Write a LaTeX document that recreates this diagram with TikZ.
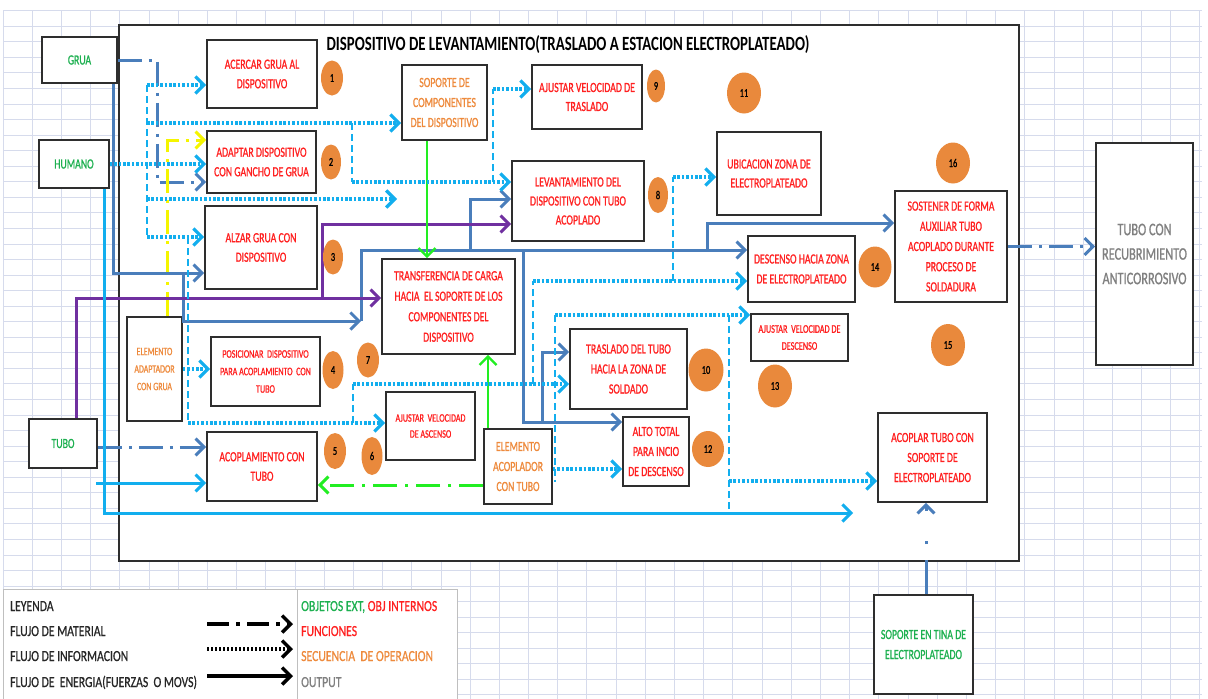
\documentclass[tikz,border=0pt]{standalone}
\usepackage{fontspec}
\setmainfont{Carlito}
\newfontfamily\boxfont[FakeStretch=0.7,FakeBold=0.9]{Carlito}
\newfontfamily\headfont[FakeStretch=0.735]{Carlito}
\newfontfamily\legendfont[FakeStretch=0.76,FakeBold=0.6]{Carlito}
\usetikzlibrary{arrows.meta,shapes.geometric}
\definecolor{steel}{HTML}{4A7EBB}
\definecolor{sky}{HTML}{12AEEE}
\definecolor{purp}{HTML}{7030A0}
\definecolor{lime}{HTML}{22EE22}
\definecolor{yel}{HTML}{F5F500}
\definecolor{fnred}{HTML}{FF2020}
\definecolor{objor}{HTML}{EE8A3C}
\definecolor{extgr}{HTML}{1DB050}
\definecolor{outgr}{HTML}{808080}
\definecolor{circor}{HTML}{E9893C}
\definecolor{gridc}{HTML}{D6DBEC}
\definecolor{boxc}{HTML}{2E2E2E}
\tikzset{
  fsz/.style 2 args={font={\boxfont\fontsize{#1}{#2}\selectfont}},
  sz/.style 2 args={minimum width=#1pt, minimum height=#2pt},
  box/.style={draw=boxc, line width=1.6pt, fill=white, align=center, inner sep=1pt},
  fn/.style={box, text=fnred, fsz={14}{19.5}},
  obj/.style={box, text=objor, fsz={14}{20}},
  ext/.style={box, text=extgr, fsz={14}{20}},
  num/.style={ellipse, fill=circor, draw=none, inner sep=0pt, text=black,
              font={\boxfont\fontsize{12}{12}\selectfont}},
  tip/.style={-{Straight Barb[length=8.5pt,width=17pt]}},
  nrg/.style={draw=steel, line width=3pt},
  mat/.style={draw=steel, line width=3pt, dash pattern=on 24pt off 7pt on 3pt off 7pt},
  info/.style={draw=sky, line width=3.2pt, dash pattern=on 2.6pt off 1.8pt},
  infov/.style={draw=sky, line width=2pt, dash pattern=on 7pt off 4pt},
  sky line/.style={draw=sky, line width=3pt},
  pur/.style={draw=purp, line width=3pt},
  grn/.style={draw=lime, line width=2.4pt},
  grnmat/.style={draw=lime, line width=3pt, dash pattern=on 24pt off 8pt on 3pt off 8pt},
  yelmat/.style={draw=yel, line width=3pt, dash pattern=on 24pt off 7pt on 3pt off 7pt},
  legtext/.style={anchor=base west, inner sep=0pt, text=black!85,
                  font={\legendfont\fontsize{15.4}{16}\selectfont}},
}
\begin{document}
\begin{tikzpicture}[x=1pt,y=-1pt]
\useasboundingbox (0,0) rectangle (1208,699);
\clip (0,0) rectangle (1208,699);

% spreadsheet grid behind everything
\foreach \k in {0,...,41}
  \draw[gridc, line width=0.9pt] ({3.1+29.19*\k},10.7) -- ({3.1+29.19*\k},699);
\foreach \k in {0,...,44}
  \draw[gridc, line width=0.9pt] (3,{10.7+15.55*\k}) -- (1202,{10.7+15.55*\k});

% legend panel and main frame
\node[draw=black!25, line width=1pt, fill=white, sz={454}{113}, inner sep=0pt] (legend) at (230,645.5) {};
\draw[black!25, line width=1pt] (297,589) -- (297,699);
\node[draw=boxc, line width=1.8pt, fill=white, sz={900}{536}, inner sep=0pt] (frame) at (569,293) {};
\node[font={\headfont\bfseries\fontsize{20.2}{20}\selectfont}, text=black] (title) at (568,45)
  {DISPOSITIVO DE LEVANTAMIENTO(TRASLADO A ESTACION ELECTROPLATEADO)};

% external objects
\node[ext, sz={75}{46}] (grua) at (79.5,60) {GRUA};
\node[ext, sz={70}{48}] (humano) at (74,164) {HUMANO};
\node[ext, sz={68}{49}] (tubo) at (63,443.5) {TUBO};
\node[ext, sz={99}{99}] (tina) at (923.5,644.5) {SOPORTE EN TINA DE\\ELECTROPLATEADO};
\node[box, sz={97}{222}, text=outgr, fsz={17.6}{24.5}] (recub) at (1144.5,254) {TUBO CON\\RECUBRIMIENTO\\ANTICORROSIVO};

% internal objects
\node[obj, sz={85}{75}] (soporte) at (444.5,102.5) {SOPORTE DE\\COMPONENTES\\DEL DISPOSITIVO};
\node[obj, sz={55}{104}, fsz={11.3}{17.5}] (adapt) at (154.5,369) {ELEMENTO\\ADAPTADOR\\CON GRUA};
\node[obj, sz={68}{75}] (acopl) at (518,466.5) {ELEMENTO\\ACOPLADOR\\CON TUBO};

% functions
\node[fn, sz={110}{68}] (f1) at (262,74) {ACERCAR GRUA AL\\DISPOSITIVO};
\node[fn, sz={109}{62}] (f2) at (261.5,162) {ADAPTAR DISPOSITIVO\\CON GANCHO DE GRUA};
\node[fn, sz={112}{83}] (f3) at (261,247.5) {ALZAR GRUA CON\\DISPOSITIVO};
\node[fn, sz={109}{69}, fsz={11.5}{17.5}] (f4) at (265.5,371.5) {POSICIONAR~ DISPOSITIVO\\PARA ACOPLAMIENTO~ CON\\TUBO};
\node[fn, sz={110}{69}] (f5) at (262,466.5) {ACOPLAMIENTO CON\\TUBO};
\node[fn, sz={89}{68}, fsz={11.5}{16}] (f6) at (430.5,426) {AJUSTAR~ VELOCIDAD\\DE ASCENSO};
\node[fn, sz={133}{95}, fsz={14}{20.5}] (f7) at (448.5,306.5) {TRANSFERENCIA DE CARGA\\HACIA~ EL SOPORTE DE LOS\\COMPONENTES DEL\\DISPOSITIVO};
\node[fn, sz={132}{80}, fsz={14}{19}] (f8) at (578,201) {LEVANTAMIENTO DEL\\DISPOSITIVO CON TUBO\\ACOPLADO};
\node[fn, sz={110}{64}, fsz={14}{19}] (f9) at (587,97) {AJUSTAR VELOCIDAD DE\\TRASLADO};
\node[fn, sz={117}{80}, fsz={14}{20}] (f10) at (628.5,369) {TRASLADO DEL TUBO\\HACIA LA ZONA DE\\SOLDADO};
\node[fn, sz={66}{69}, fsz={14}{20}] (f12) at (656,451.5) {ALTO TOTAL\\PARA INCIO\\DE DESCENSO};
\node[fn, sz={97}{47}, fsz={11.7}{17}] (f13) at (799.5,337.5) {AJUSTAR~ VELOCIDAD DE\\DESCENSO};
\node[fn, sz={107}{66}, fsz={14}{20}] (f14) at (801.5,269) {DESCENSO HACIA ZONA\\DE ELECTROPLATEADO};
\node[fn, sz={104}{83}, fsz={14}{19}] (ubic) at (769,173.5) {UBICACION ZONA DE\\ELECTROPLATEADO};
\node[fn, sz={112}{111}, fsz={14}{20.2}] (sost) at (951,246.5) {SOSTENER DE FORMA\\AUXILIAR TUBO\\ACOPLADO DURANTE\\PROCESO DE\\SOLDADURA};
\node[fn, sz={109}{89}, fsz={14}{20}] (acoplar) at (932.5,457.5) {ACOPLAR TUBO CON\\SOPORTE DE\\ELECTROPLATEADO};

% junction points of the routed connectors
\coordinate (jg) at (157,182);
\coordinate (e1) at (183,273);
\coordinate (e2) at (361,321);
\coordinate (e3) at (361,250);
\coordinate (e4) at (470,250);  \coordinate (e4b) at (470,199);
\coordinate (e5) at (523,250);  \coordinate (e5b) at (523,422);
\coordinate (e6) at (542,422);  \coordinate (e6b) at (542,352);
\coordinate (e7) at (707,250);  \coordinate (e7b) at (707,223);
\coordinate (p0) at (76,298);
\coordinate (p1) at (322,298);  \coordinate (p1b) at (322,224);
\coordinate (h1) at (104,513);  \coordinate (hend) at (853,513);
\coordinate (t2) at (96,483);
\coordinate (yl) at (167,140);
\coordinate (i1) at (147,85);   \coordinate (i2) at (147,123);
\coordinate (i3) at (147,199);  \coordinate (i3end) at (397,199);
\coordinate (i4) at (147,237);  \coordinate (i5) at (188,237);
\coordinate (i6) at (188,423);  \coordinate (i7) at (353,423);
\coordinate (i8) at (353,384);  \coordinate (i9) at (533,384);
\coordinate (i10) at (533,281); \coordinate (i11) at (673,281);
\coordinate (i12) at (673,177); \coordinate (i13) at (352,123);
\coordinate (i14) at (352,182); \coordinate (i15) at (493,182);
\coordinate (i16) at (493,89);  \coordinate (i17) at (555,315);
\coordinate (i18) at (555,482); \coordinate (i19) at (729,315);
\coordinate (i20) at (729,513); \coordinate (i21) at (729,481);

% material flow
\draw[mat, tip] (grua.east) -| (jg) -- (f2.west |- jg);
\draw[mat, tip] ([yshift=-3.5pt]tubo.east) -- ([yshift=-3.5pt]tubo.east -| f5.west);
\draw[mat, tip] (sost.east) -- (recub.west |- sost.east);
\draw[steel, line width=3pt, dash pattern=on 34pt off 16pt on 3pt off 30pt, tip]
  ([xshift=2.5pt]tina.north) -- ([xshift=2.5pt]tina.north |- acoplar.south);
\draw[grnmat, tip] ([yshift=-18.5pt]acopl.west) -- ([yshift=-18.5pt]acopl.west -| f5.east);
\draw[yelmat, tip] ([xshift=12.5pt]adapt.north) -- (yl) -- (f2.west |- yl);

% energy flow
\draw[nrg, tip] ([xshift=-4pt]grua.south east) |- (f3.west |- e1);
\draw[nrg, tip] (e1) |- (e2);
\draw[nrg, tip] (e2) -- (e3) -- (f14.west |- e3);
\draw[nrg, tip] (e4) -- (e4b) -- (f8.west |- e4b);
\draw[nrg, tip] (e5) -- (e5b) -- (f12.west |- e5b);
\draw[nrg, tip] (e6) -- (e6b) -- (f10.west |- e6b);
\draw[nrg, tip] (e7) -- (e7b) -- (sost.west |- e7b);
\draw[pur, tip] ([xshift=13pt]tubo.north) -- (p0) -- (f7.west |- p0);
\draw[pur, tip] (p1) -- (p1b) -- (f8.west |- p1b);
\draw[sky line, tip] ([xshift=30pt]humano.south) -- (h1) -- (hend);
\draw[sky line, tip] (t2) -- (f5.west |- t2);
\draw[grn, tip] ([xshift=-17.5pt]soporte.south) -- ([xshift=-17.5pt]soporte.south |- f7.north);
\draw[grn, tip] ([xshift=-30pt]acopl.north) -- ([xshift=-30pt]acopl.north |- f7.south);

% information flow
\draw[info, tip] (humano.east) -- (f2.west |- humano.east);
\draw[infov] (i1) -- (i4);
\draw[info, tip] (i1) -- (f1.west |- i1);
\draw[info, tip] (i2) -- (soporte.west |- i2);
\draw[info, tip] (i3) -- (i3end);
\draw[info, tip] (i4) -- (f3.west |- i4);
\draw[infov] (i5) -- (i6);
\draw[info, tip] (i6) -- (f6.west |- i6);
\draw[infov] (i7) -- (i8);
\draw[info, tip] (i8) -- (f10.west |- i8);
\draw[infov] (i9) -- (i10);
\draw[info, tip] (i10) -- (f14.west |- i10);
\draw[infov] (i11) -- (i12);
\draw[info, tip] (i12) -- (ubic.west |- i12);
\draw[infov] (i13) -- (i14);
\draw[info, tip] (i14) -- (f8.west |- i14);
\draw[infov] (i15) -- (i16);
\draw[info, tip] (i16) -- (f9.west |- i16);
\draw[info, tip] (adapt.east) -- (f4.west |- adapt.east);
\draw[infov] (i17) -- (i18);
\draw[info, tip] (i17) -- (f13.west |- i17);
\draw[info, tip] ([yshift=-2.5pt]acopl.east) -- ([yshift=-2.5pt]acopl.east -| f12.west);
\draw[infov] (i19) -- (i20);
\draw[info, tip] (i21) -- (acoplar.west |- i21);

% sequence numbers
\node[num, sz={22}{35}] (n1) at (332,78) {1};
\node[num, sz={20}{35}] (n2) at (331,162) {2};
\node[num, sz={20}{35}] (n3) at (333,257) {3};
\node[num, sz={21}{38}] (n4) at (333,370) {4};
\node[num, sz={22}{36}] (n5) at (335,451) {5};
\node[num, sz={21}{38}] (n6) at (372,456) {6};
\node[num, sz={22}{35}] (n7) at (368,360) {7};
\node[num, sz={20}{36}] (n8) at (658,195) {8};
\node[num, sz={18}{33}] (n9) at (656,86) {9};
\node[num, sz={35}{43}] (n10) at (706,370) {10};
\node[num, sz={34}{41}] (n11) at (744,93) {11};
\node[num, sz={32}{36}] (n12) at (708,449) {12};
\node[num, sz={34}{43}] (n13) at (775,386) {13};
\node[num, sz={33}{41}] (n14) at (875,267) {14};
\node[num, sz={34}{42}] (n15) at (948,345) {15};
\node[num, sz={34}{41}] (n16) at (953,163) {16};

% legend
\node[legtext] (lg0) at (10,611) {LEYENDA};
\node[legtext] (lg1) at (10,636) {FLUJO DE MATERIAL};
\node[legtext] (lg2) at (10,661) {FLUJO DE INFORMACION};
\node[legtext] (lg3) at (10,687) {FLUJO DE~ ENERGIA(FUERZAS~ O MOVS)};
\node[legtext] (lr0) at (301,611) {\textcolor{extgr}{OBJETOS EXT,} \textcolor{fnred}{OBJ INTERNOS}};
\node[legtext, text=fnred] (lr1) at (301,636) {FUNCIONES};
\node[legtext, text=objor] (lr2) at (301,661) {SECUENCIA~ DE OPERACION};
\node[legtext, text=outgr] (lr3) at (301,687) {OUTPUT};
\coordinate (la1) at (207,624); \coordinate (la2) at (293,624);
\coordinate (lb1) at (207,649); \coordinate (lb2) at (293,649);
\coordinate (lc1) at (207,676); \coordinate (lc2) at (293,676);
\draw[black, line width=3.5pt, dash pattern=on 22pt off 7pt on 4pt off 7pt, tip] (la1) -- (la2);
\draw[black, line width=3.5pt, dash pattern=on 2.4pt off 1.6pt, tip] (lb1) -- (lb2);
\draw[black, line width=3.5pt, tip] (lc1) -- (lc2);
\end{tikzpicture}
\end{document}
